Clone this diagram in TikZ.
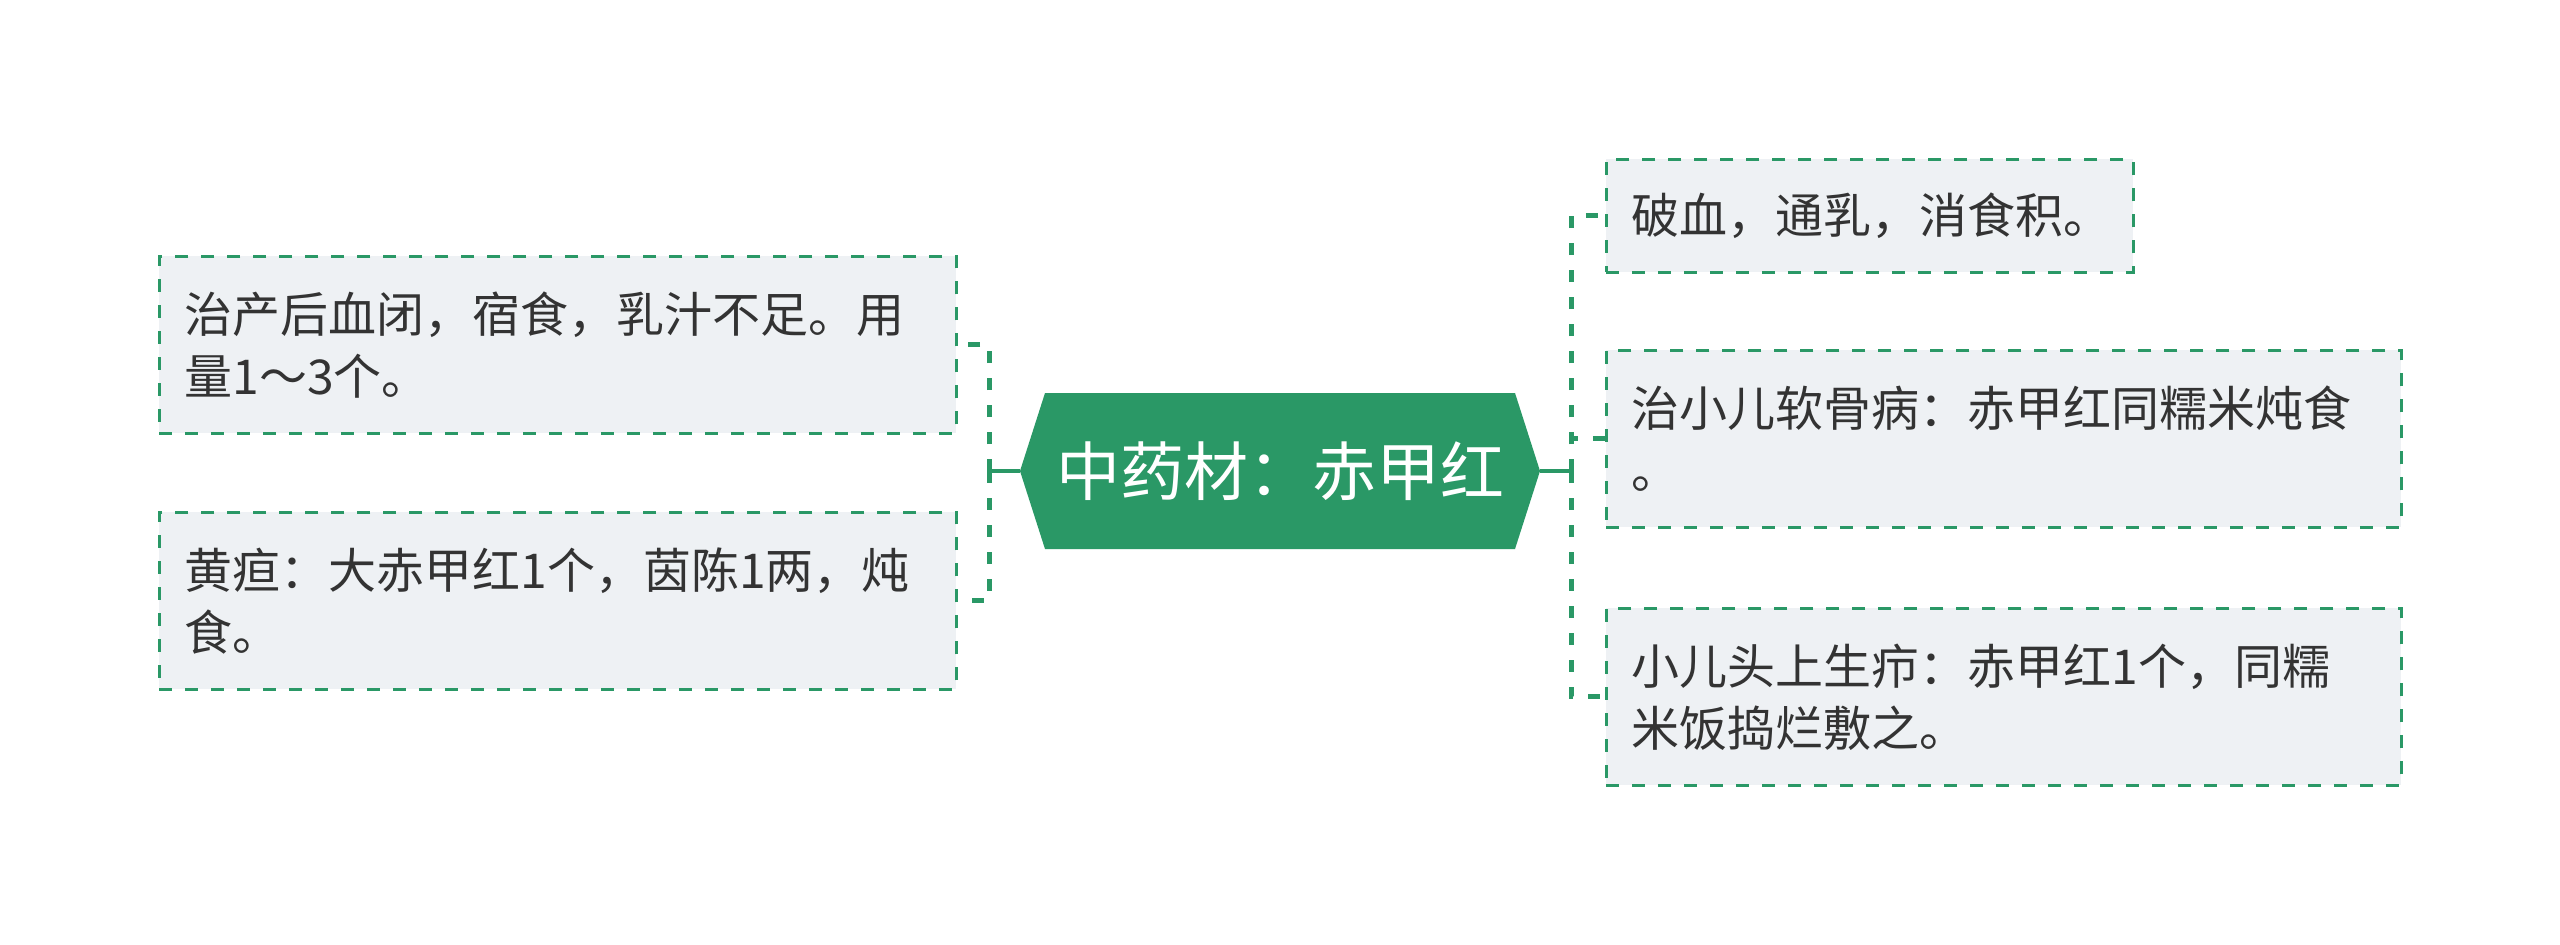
\documentclass[tikz,border=0pt]{standalone}
\usepackage{fontspec}
\setmainfont{Noto Sans CJK SC}
\definecolor{hexgreen}{HTML}{2A9866}
\definecolor{boxfill}{HTML}{EEF1F4}
\definecolor{txt}{HTML}{333333}
\begin{document}
\begin{tikzpicture}[x=0.5pt,y=-0.5pt,
  leaf/.style={draw=hexgreen, fill=boxfill, line width=1.4pt, dash pattern=on 6.5pt off 6.5pt,
    anchor=north west, inner xsep=12.5pt, inner ysep=0pt, align=left, text=txt,
    font=\fontsize{24pt}{31pt}\selectfont},
  trunk/.style={draw=hexgreen, line width=2.5pt, dash pattern=on 6pt off 7.5pt},
  stem/.style={draw=hexgreen, line width=2.2pt}]
\useasboundingbox[fill=white] (0,0) rectangle (2560,944);
\node[minimum width=260pt, minimum height=78pt, inner sep=0pt, text=white,
  font=\fontsize{32pt}{38pt}\selectfont,
  path picture={\fill[hexgreen] ([xshift=12.5pt]path picture bounding box.north west)
    -- ([xshift=-12.5pt]path picture bounding box.north east)
    -- (path picture bounding box.east)
    -- ([xshift=-12.5pt]path picture bounding box.south east)
    -- ([xshift=12.5pt]path picture bounding box.south west)
    -- (path picture bounding box.west) -- cycle;}] (c) at (1280,471) {中药材：赤甲红};
\node[leaf, minimum width=398.5pt, minimum height=88.5pt, text width=373.5pt] (l1) at (158,255)
  {治产后血闭，宿食，乳汁不足。用\\量1～3个。};
\node[leaf, minimum width=398.5pt, minimum height=88.5pt, text width=373.5pt] (l2) at (158,511)
  {黄疸：大赤甲红1个，茵陈1两，炖\\食。};
\node[leaf, minimum width=263.5pt, minimum height=56.5pt, text width=238.5pt] (r1) at (1605,158)
  {破血，通乳，消食积。};
\node[leaf, minimum width=397.5pt, minimum height=88.5pt, text width=372.5pt] (r2) at (1605,349)
  {治小儿软骨病：赤甲红同糯米炖食\\。};
\node[leaf, minimum width=397.5pt, minimum height=88.5pt, text width=372.5pt] (r3) at (1605,607)
  {小儿头上生疖：赤甲红1个，同糯\\米饭捣烂敷之。};
\coordinate (lj) at (989,471);
\coordinate (rj) at (1571,471);
\draw[stem] (c.west) -- (lj);
\draw[stem] (c.east) -- (rj);
\draw[trunk] (lj) |- (l1.east);
\draw[trunk] (lj) |- (l2.east);
\draw[trunk] (rj) |- (r1.west);
\draw[trunk] (rj) |- (r2.west);
\draw[trunk] (rj) |- (r3.west);
\end{tikzpicture}
\end{document}
